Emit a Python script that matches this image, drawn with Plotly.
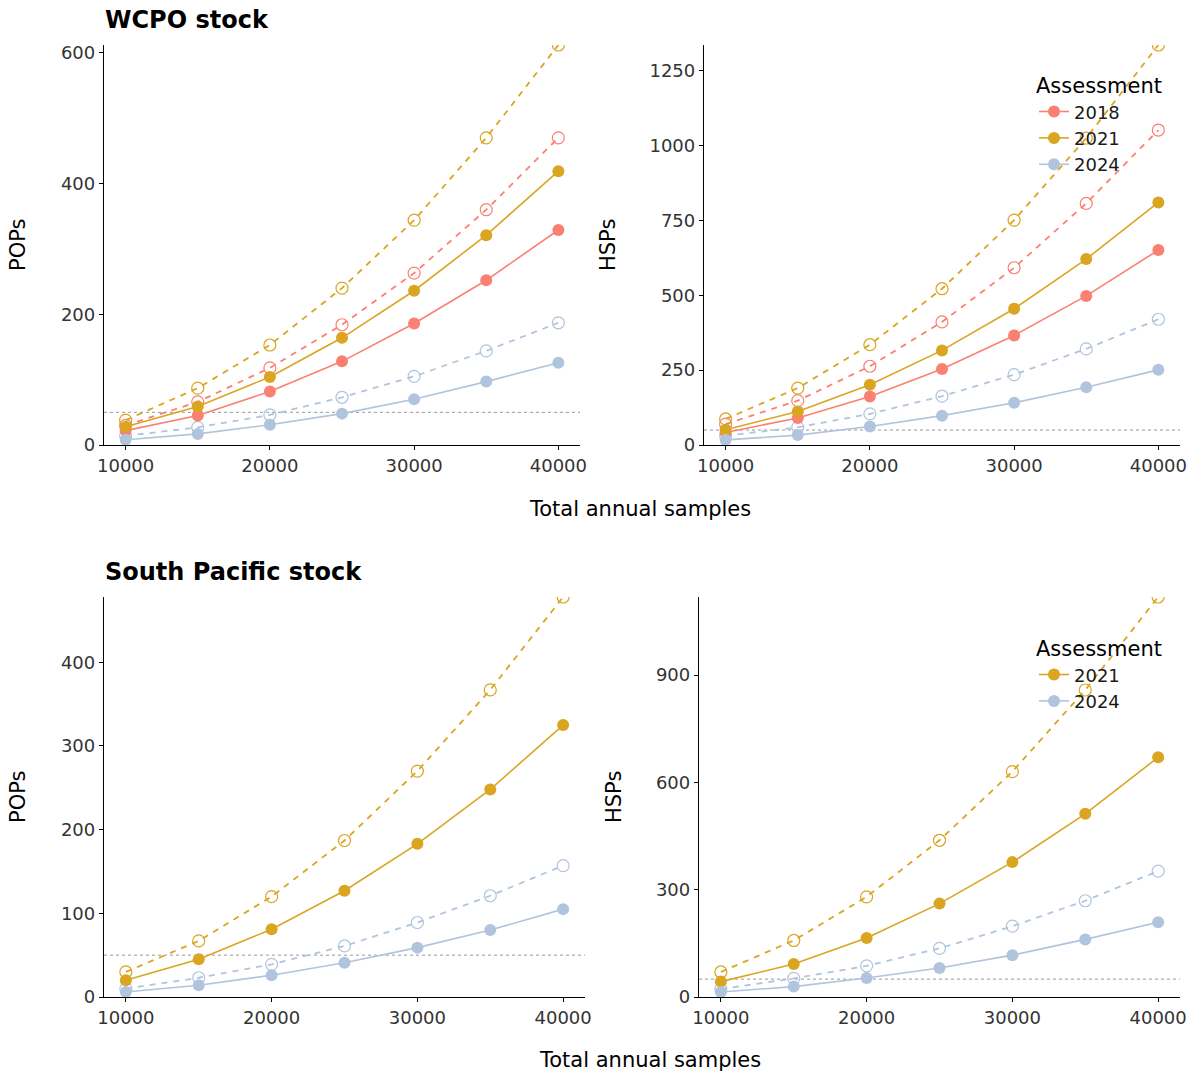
import plotly.graph_objects as go

samples = [10000, 15000, 20000, 25000, 30000, 35000, 40000]

# WCPO stock - POPs
wcpo_pops_2018 = [22, 45, 82, 128, 186, 252, 329]
wcpo_pops_2018_open = [30, 66, 118, 184, 263, 360, 470]
wcpo_pops_2021 = [28, 59, 104, 164, 236, 321, 419]
wcpo_pops_2021_open = [38, 87, 153, 240, 344, 470, 612]
wcpo_pops_2024 = [8, 17, 31, 48, 70, 97, 126]
wcpo_pops_2024_open = [14, 27, 46, 73, 105, 144, 187]

# WCPO stock - HSPs
wcpo_hsps_2018 = [42, 90, 162, 254, 366, 498, 651]
wcpo_hsps_2018_open = [70, 148, 263, 411, 592, 807, 1052]
wcpo_hsps_2021 = [51, 112, 201, 316, 455, 621, 810]
wcpo_hsps_2021_open = [87, 190, 335, 522, 751, 1025, 1336]
wcpo_hsps_2024 = [17, 33, 62, 98, 141, 193, 251]
wcpo_hsps_2024_open = [31, 59, 104, 163, 235, 321, 420]

# South Pacific stock - POPs
sp_pops_2021 = [20, 45, 81, 127, 183, 248, 325]
sp_pops_2021_open = [30, 67, 120, 187, 270, 367, 478]
sp_pops_2024 = [6, 14, 26, 41, 59, 80, 105]
sp_pops_2024_open = [10, 23, 39, 61, 89, 121, 157]

# South Pacific stock - HSPs
sp_hsps_2021 = [43, 92, 165, 261, 377, 512, 670]
sp_hsps_2021_open = [70, 158, 280, 438, 630, 858, 1118]
sp_hsps_2024 = [14, 29, 53, 81, 117, 161, 209]
sp_hsps_2024_open = [22, 52, 87, 136, 198, 269, 352]

threshold = 50

colors = {"2018": "#FA8072", "2021": "#DAA520", "2024": "#B0C4DE"}

W, H = 1197, 1075
FONT = "DejaVu Sans"

fig = go.Figure()

panels = [
    ("x", "y", None, [("2018", wcpo_pops_2018, wcpo_pops_2018_open),
                      ("2021", wcpo_pops_2021, wcpo_pops_2021_open),
                      ("2024", wcpo_pops_2024, wcpo_pops_2024_open)],
     max(wcpo_pops_2021_open), [0, 200, 400, 600]),
    ("x2", "y2", "legend", [("2018", wcpo_hsps_2018, wcpo_hsps_2018_open),
                            ("2021", wcpo_hsps_2021, wcpo_hsps_2021_open),
                            ("2024", wcpo_hsps_2024, wcpo_hsps_2024_open)],
     max(wcpo_hsps_2021_open), [0, 250, 500, 750, 1000, 1250]),
    ("x3", "y3", None, [("2021", sp_pops_2021, sp_pops_2021_open),
                        ("2024", sp_pops_2024, sp_pops_2024_open)],
     max(sp_pops_2021_open), [0, 100, 200, 300, 400]),
    ("x4", "y4", "legend2", [("2021", sp_hsps_2021, sp_hsps_2021_open),
                             ("2024", sp_hsps_2024, sp_hsps_2024_open)],
     max(sp_hsps_2021_open), [0, 300, 600, 900]),
]

for xa, ya, leg, series, ymax, ticks in panels:
    for name, solid, opn in series:
        fig.add_trace(go.Scatter(
            x=samples, y=opn, mode="lines+markers", xaxis=xa, yaxis=ya,
            line=dict(color=colors[name], width=1.8, dash="6px,6px"),
            marker=dict(symbol="circle-open", size=12, color=colors[name], line=dict(width=1.2)),
            showlegend=False, hoverinfo="skip"))
    for name, solid, opn in series:
        kw = dict(showlegend=False)
        if leg is not None:
            kw = dict(showlegend=True, legend=leg, name=name)
        fig.add_trace(go.Scatter(
            x=samples, y=solid, mode="lines+markers", xaxis=xa, yaxis=ya,
            line=dict(color=colors[name], width=1.6),
            marker=dict(symbol="circle", size=12, color=colors[name]),
            **kw))

def xd(a, b):
    return [a / W, b / W]

def yd(top, bottom):
    return [1 - bottom / H, 1 - top / H]

axis_common = dict(
    showline=True, linecolor="black", linewidth=1.3, ticks="outside", ticklen=4,
    tickcolor="black", tickwidth=1, showgrid=False, zeroline=False, automargin=False,
    tickfont=dict(family=FONT, size=18, color="#333333"),
)

layout_axes = {}
doms = {
    "x": (xd(104, 580), yd(45, 445)),
    "x2": (xd(704, 1180), yd(45, 445)),
    "x3": (xd(104, 585), yd(597, 997)),
    "x4": (xd(699, 1180), yd(597, 997)),
}
for (xa, ya, leg, series, ymax, ticks) in panels:
    xdom, ydom = doms[xa]
    xn = "xaxis" + xa[1:]
    yn = "yaxis" + ya[1:]
    layout_axes[xn] = dict(axis_common, domain=xdom, anchor=ya, range=[8500, 41500],
                           tickvals=[10000, 20000, 30000, 40000], tickformat="d")
    layout_axes[yn] = dict(axis_common, domain=ydom, anchor=xa, range=[0, ymax],
                           tickvals=ticks, tickformat="d")

shapes = []
for xa, ya, *_ in panels:
    shapes.append(dict(type="line", xref=f"{xa} domain", yref=ya, x0=0, x1=1,
                       y0=threshold, y1=threshold,
                       line=dict(color="#999999", width=1, dash="dot"), layer="below"))

def ann(text, x, y, size, angle=0, bold=False, xanchor="center", color="black"):
    return dict(text=f"<b>{text}</b>" if bold else text, x=x / W, y=1 - y / H,
                xref="paper", yref="paper", showarrow=False, textangle=angle,
                xanchor=xanchor, yanchor="middle",
                font=dict(family=FONT, size=size, color=color))

annotations = [
    ann("WCPO stock", 103, 20, 24, bold=True, xanchor="left"),
    ann("South Pacific stock", 103, 572, 24, bold=True, xanchor="left"),
    ann("Total annual samples", 640, 509, 21),
    ann("Total annual samples", 650, 1060, 21),
    ann("POPs", 18, 245, 21, angle=-90),
    ann("HSPs", 608, 245, 21, angle=-90),
    ann("POPs", 18, 797, 21, angle=-90),
    ann("HSPs", 614, 797, 21, angle=-90),
]

legend_common = dict(
    bgcolor="rgba(0,0,0,0)", borderwidth=0, xanchor="left", yanchor="top",
    font=dict(family=FONT, size=18, color="#1A1A1A"),
    title=dict(text="Assessment", font=dict(family=FONT, size=21, color="black")),
    itemwidth=30, tracegroupgap=0,
)

fig.update_layout(
    width=W, height=H,
    margin=dict(l=0, r=0, t=0, b=0),
    paper_bgcolor="white", plot_bgcolor="white",
    font=dict(family=FONT),
    legend=dict(legend_common, x=1034 / W, y=1 - 66 / H),
    legend2=dict(legend_common, x=1034 / W, y=1 - 629 / H),
    shapes=shapes,
    annotations=annotations,
    **layout_axes,
)

fig.write_html("out.html", config={"displayModeBar": False},
               post_script="document.body.style.margin='0';document.body.style.overflow='hidden';")
